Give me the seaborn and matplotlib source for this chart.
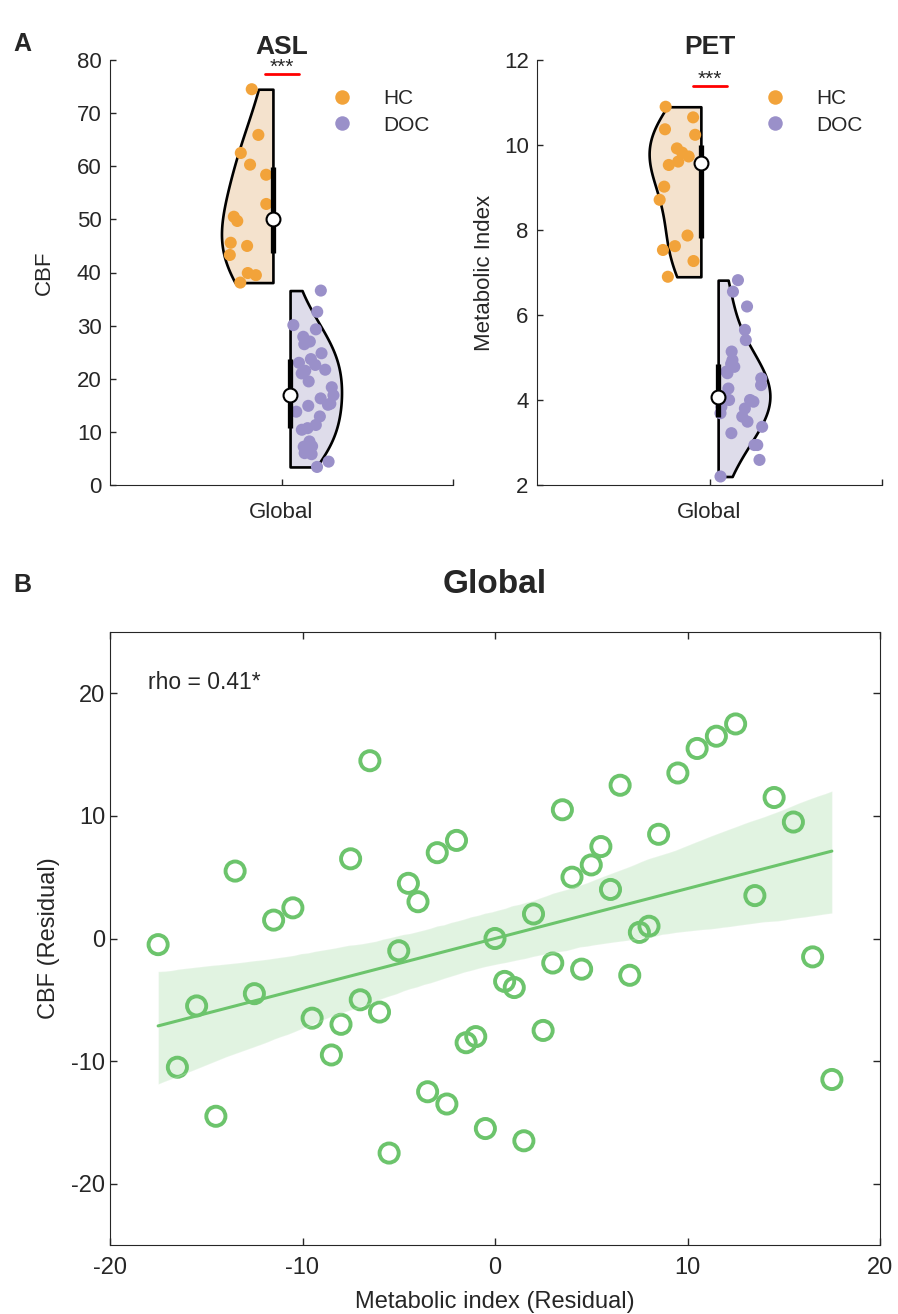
import numpy as np
import pandas as pd
import matplotlib
matplotlib.use("Agg")
import matplotlib.pyplot as plt
import seaborn as sns

sns.set_style("ticks")
plt.rcParams['font.family'] = ['Liberation Sans', 'DejaVu Sans']
plt.rcParams['axes.unicode_minus'] = False
plt.rcParams['xtick.direction'] = 'in'
plt.rcParams['ytick.direction'] = 'in'
plt.rcParams['axes.edgecolor'] = '#262626'
plt.rcParams['xtick.color'] = '#262626'
plt.rcParams['ytick.color'] = '#262626'

# ---- data ----
groups = ["HC", "DOC"]
regions = ["Global"]

asl_hc = [74.5, 65.9, 62.5, 60.3, 58.4, 52.9, 50.5, 49.7, 45.6, 45.0, 43.3, 39.9, 39.5, 38.1]
asl_doc = [36.6, 32.6, 30.1, 29.3, 27.9, 27.0, 26.5, 24.8, 23.7, 23.0, 22.6, 21.7, 21.5, 21.0,
           19.5, 18.4, 16.9, 16.3, 15.3, 15.1, 14.9, 13.8, 12.9, 11.3, 10.7, 10.4, 8.2, 7.3,
           7.2, 6.0, 5.8, 4.4, 3.4]
pet_hc = [10.9, 10.65, 10.37, 10.24, 9.92, 9.82, 9.73, 9.61, 9.53, 9.02, 8.71, 7.87, 7.62,
          7.53, 7.27, 6.90]
pet_doc = [6.82, 6.55, 6.20, 5.65, 5.41, 5.14, 4.94, 4.85, 4.78, 4.67, 4.63, 4.51, 4.35, 4.27,
           4.08, 4.00, 4.00, 3.96, 3.84, 3.80, 3.69, 3.61, 3.49, 3.37, 3.22, 2.94, 2.94, 2.59, 2.2]

metab_resid = [-17.5, -16.5, -15.5, -14.5, -13.5, -12.5, -11.5, -10.5, -9.5, -8.5, -8.0, -7.5,
               -7.0, -6.5, -6.0, -5.5, -5.0, -4.5, -4.0, -3.5, -3.0, -2.5, -2.0, -1.5, -1.0,
               -0.5, 0.0, 0.5, 1.0, 1.5, 2.0, 2.5, 3.0, 3.5, 4.0, 4.5, 5.0, 5.5, 6.0, 6.5, 7.0,
               7.5, 8.0, 8.5, 9.5, 10.5, 11.5, 12.5, 13.5, 14.5, 15.5, 16.5, 17.5]
cbf_resid = [-0.5, -10.5, -5.5, -14.5, 5.5, -4.5, 1.5, 2.5, -6.5, -9.5, -7.0, 6.5,
             -5.0, 14.5, -6.0, -17.5, -1.0, 4.5, 3.0, -12.5, 7.0, -13.5, 8.0, -8.5, -8.0,
             -15.5, 0.0, -3.5, -4.0, -16.5, 2.0, -7.5, -2.0, 10.5, 5.0, -2.5, 6.0, 7.5, 4.0, 12.5, -3.0,
             0.5, 1.0, 8.5, 13.5, 15.5, 16.5, 17.5, 3.5, 11.5, 9.5, -1.5, -11.5]

point_colors = {"HC": "#F2A33A", "DOC": "#9A90C9"}
fill_colors = {"HC": "#FBE2C6", "DOC": "#DCDAEC"}
green = "#6CC46C"

violin_width = 0.4
violin_gap = 0.25
strip_offset = {"HC": -0.093, "DOC": 0.093}


def make_frame(hc, doc):
    df = pd.DataFrame({
        "value": hc + doc,
        "group": ["HC"] * len(hc) + ["DOC"] * len(doc),
        "region": regions[0],
    })
    df["x"] = df["region"].map({r: i for i, r in enumerate(regions)}).astype(float)
    df["xs"] = df["x"] + df["group"].map(strip_offset)
    return df


def half_violin(ax, df, ylim, yticks, ylabel, ylabelpad, title, sig_y, leg_x, seed):
    sns.violinplot(data=df, x="x", y="value", hue="group", hue_order=groups,
                   native_scale=True, split=True, width=violin_width, gap=violin_gap,
                   cut=0, density_norm="width", bw_adjust=1.25, inner=None,
                   palette=fill_colors, linewidth=1.9, linecolor="black",
                   legend=False, ax=ax)
    np.random.seed(seed)
    sns.stripplot(data=df, x="xs", y="value", hue="group", hue_order=groups,
                  native_scale=True, dodge=False, jitter=0.33, size=8.7, linewidth=0,
                  palette=point_colors, ax=ax, zorder=3)
    # box: IQR bar + median circle at each flat edge
    for i, g in enumerate(groups):
        vals = df.loc[df["group"] == g, "value"].to_numpy()
        q1, med, q3 = np.percentile(vals, [25, 50, 75])
        edge = (-1 if i == 0 else 1) * violin_width * violin_gap / 4
        ax.plot([edge, edge], [q1, q3], color="black", lw=3.8, solid_capstyle="butt", zorder=4)
        ax.scatter([edge], [med], s=100, facecolor="white", edgecolor="black",
                   linewidth=1.5, zorder=5)
    # significance mark
    ax.plot([-0.047, 0.05], [sig_y, sig_y], color="red", lw=2)
    ax.annotate("***", xy=(0.0, sig_y), xytext=(0, 0.5), textcoords="offset points",
                ha="center", va="baseline", fontsize=15)

    ax.set_xlim(-0.5, 0.5)
    ax.set_xticks([0])
    ax.set_xticklabels(regions)
    ax.set_xticks([0.5], minor=True)
    ax.set_ylim(*ylim)
    ax.set_yticks(yticks)
    ax.set_xlabel("")
    ax.set_ylabel(ylabel, fontsize=16, labelpad=ylabelpad)
    ax.set_title(title, fontsize=19, fontweight="bold", pad=4)
    ax.tick_params(axis="y", labelsize=16, length=4, width=1, pad=6)
    ax.tick_params(axis="x", labelsize=16, length=4, width=1, pad=12)
    ax.tick_params(which="minor", length=4, width=1)
    sns.despine(ax=ax)
    sns.move_legend(ax, "upper left", bbox_to_anchor=(leg_x, 0.975), frameon=False,
                    title=None, fontsize=15, markerscale=1.2, handletextpad=1.0,
                    labelspacing=0.35)


fig = plt.figure(figsize=(8.98, 13.14), dpi=100)
ax1 = fig.add_axes([110 / 898, 1 - 485 / 1314, 343 / 898, 425 / 1314])
ax2 = fig.add_axes([537 / 898, 1 - 485 / 1314, 345 / 898, 425 / 1314])
ax3 = fig.add_axes([110 / 898, 1 - 1245 / 1314, 770 / 898, 613 / 1314])

half_violin(ax1, make_frame(asl_hc, asl_doc), (0, 80), range(0, 81, 10), "CBF", 16,
            "ASL", 77.4, 0.56, 3)
half_violin(ax2, make_frame(pet_hc, pet_doc), (2, 12), range(2, 13, 2), "Metabolic Index", 6.5,
            "PET", 11.4, 0.575, 5)

# ---- panel B ----
sns.regplot(x=metab_resid, y=cbf_resid, ax=ax3, ci=95, n_boot=1000, seed=0, color=green,
            scatter_kws=dict(s=190, facecolors="none", linewidths=2.8, alpha=1),
            line_kws=dict(lw=2.2))
for coll in ax3.collections:
    if isinstance(coll, matplotlib.collections.PolyCollection):
        coll.set_alpha(0.2)
ax3.set_xlim(-20, 20)
ax3.set_ylim(-25, 25)
ax3.set_xticks([-20, -10, 0, 10, 20])
ax3.set_yticks([-20, -10, 0, 10, 20])
ax3.tick_params(labelsize=17, length=5, width=1, top=True, right=True)
ax3.tick_params(axis="x", pad=9)
ax3.set_xlabel("Metabolic index (Residual)", fontsize=17, labelpad=8)
ax3.set_ylabel("CBF (Residual)", fontsize=17, labelpad=8)
ax3.set_title("Global", fontsize=24, fontweight="bold", pad=28)
ax3.text(0.049, 0.917, "rho = 0.41*", transform=ax3.transAxes, fontsize=16.5, va="center")

fig.text(22 / 898, 1 - 44 / 1314, "A", fontsize=18, fontweight="bold", ha="center", va="center")
fig.text(22 / 898, 1 - 585 / 1314, "B", fontsize=18, fontweight="bold", ha="center", va="center")

fig.savefig("out.png", dpi=100)
